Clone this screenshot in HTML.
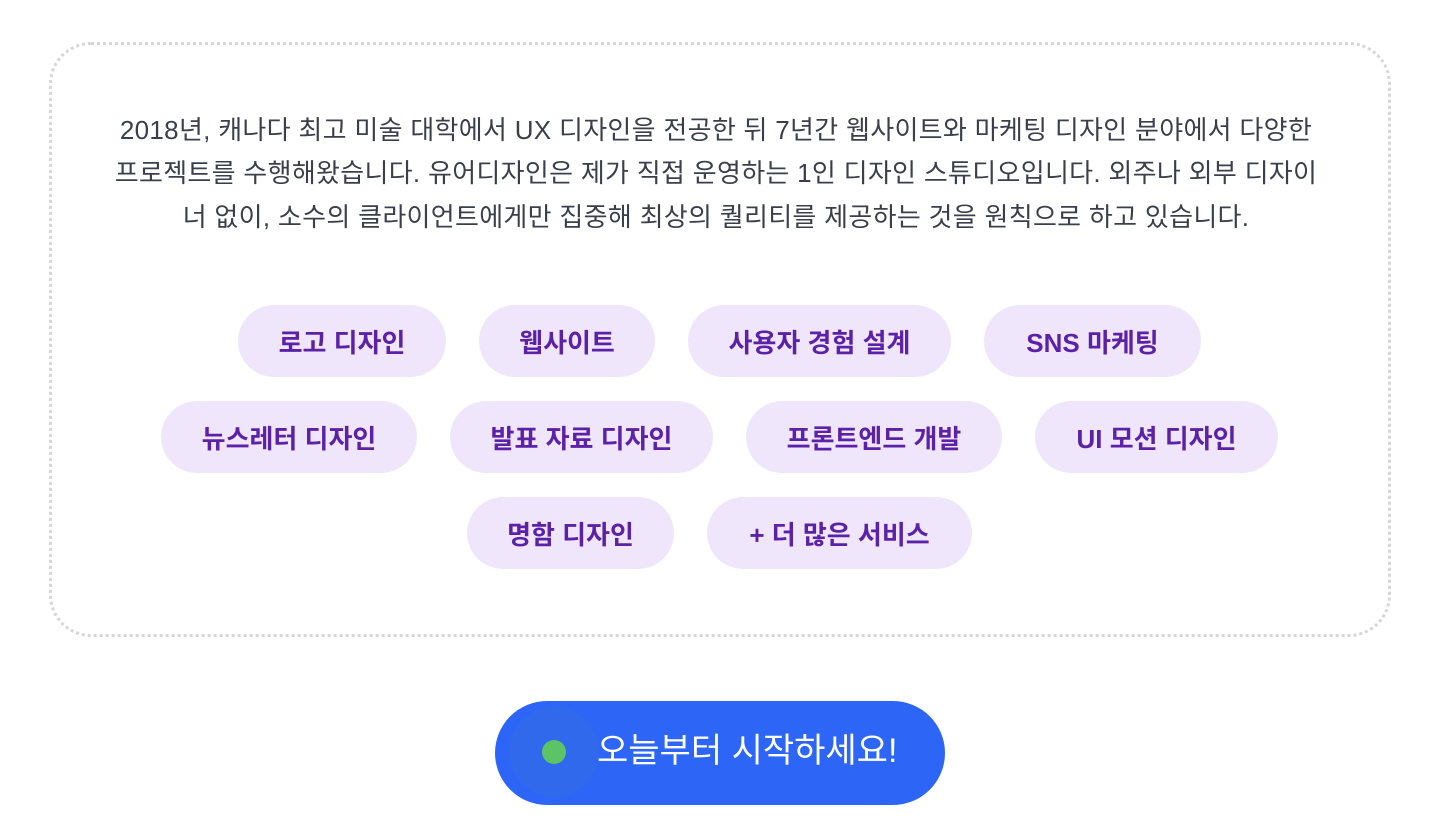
<!DOCTYPE html>
<html><head><meta charset="utf-8"><style>
body{margin:0;width:1432px;height:834px;background:#fff;position:relative;overflow:hidden;font-family:"Liberation Sans","Noto Sans CJK KR",sans-serif;}
.box{position:absolute;left:49px;top:42px;width:1336px;height:589px;border:3px dotted #d6d6d8;border-radius:42px;}
.p{position:absolute;left:0;width:1432px;text-align:center;font-size:26px;letter-spacing:0.3px;color:#3a3f4b;line-height:44px;white-space:nowrap;}
.pill{position:absolute;height:72px;border-radius:36px;background:#f0e6fc;color:#5b22a8;font-size:26px;font-weight:600;display:flex;align-items:center;justify-content:center;white-space:nowrap;}
.btn{position:absolute;left:495px;top:701px;width:450px;height:104px;border-radius:52px;background:#2d66f6;}
.ring{position:absolute;left:509px;top:707px;width:90px;height:90px;border-radius:50%;background:#3069ec;}
.dot{position:absolute;left:542px;top:740px;width:24px;height:24px;border-radius:50%;background:#5ec266;}
.bt{position:absolute;left:597px;top:726px;font-size:34px;line-height:50px;color:#fff;white-space:nowrap;}
</style></head><body>
<div class="box"></div>
<div class="p" style="top:108px">2018년, 캐나다 최고 미술 대학에서 UX 디자인을 전공한 뒤 7년간 웹사이트와 마케팅 디자인 분야에서 다양한</div>
<div class="p" style="top:151px">프로젝트를 수행해왔습니다. 유어디자인은 제가 직접 운영하는 1인 디자인 스튜디오입니다. 외주나 외부 디자이</div>
<div class="p" style="top:195px">너 없이, 소수의 클라이언트에게만 집중해 최상의 퀄리티를 제공하는 것을 원칙으로 하고 있습니다.</div>
<div class="pill" style="left:238px;top:305px;width:208px">로고 디자인</div>
<div class="pill" style="left:479px;top:305px;width:176px">웹사이트</div>
<div class="pill" style="left:688px;top:305px;width:263px">사용자 경험 설계</div>
<div class="pill" style="left:984px;top:305px;width:217px">SNS 마케팅</div>
<div class="pill" style="left:161px;top:401px;width:256px">뉴스레터 디자인</div>
<div class="pill" style="left:450px;top:401px;width:263px">발표 자료 디자인</div>
<div class="pill" style="left:746px;top:401px;width:256px">프론트엔드 개발</div>
<div class="pill" style="left:1035px;top:401px;width:243px">UI 모션 디자인</div>
<div class="pill" style="left:467px;top:497px;width:207px">명함 디자인</div>
<div class="pill" style="left:707px;top:497px;width:265px">+ 더 많은 서비스</div>
<div class="btn"></div><div class="ring"></div><div class="dot"></div>
<div class="bt">오늘부터 시작하세요!</div>
</body></html>
